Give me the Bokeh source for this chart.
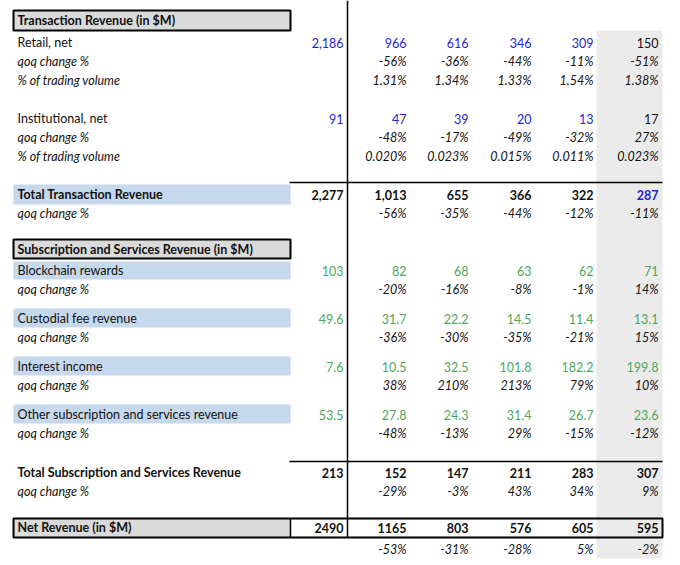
from bokeh.plotting import figure
from bokeh.models import ColumnDataSource, Range1d
from bokeh.core.properties import value
from bokeh.embed import file_html
from bokeh.resources import INLINE

# ---------------- data ----------------
retail_net = [2186, 966, 616, 346, 309, 150]
retail_qoq = [None, -56, -36, -44, -11, -51]
retail_vol = [None, 1.31, 1.34, 1.33, 1.54, 1.38]
inst_net = [91, 47, 39, 20, 13, 17]
inst_qoq = [None, -48, -17, -49, -32, 27]
inst_vol = [None, 0.020, 0.023, 0.015, 0.011, 0.023]
total_tx = [2277, 1013, 655, 366, 322, 287]
total_tx_qoq = [None, -56, -35, -44, -12, -11]
blockchain = [103, 82, 68, 63, 62, 71]
blockchain_qoq = [None, -20, -16, -8, -1, 14]
custodial = [49.6, 31.7, 22.2, 14.5, 11.4, 13.1]
custodial_qoq = [None, -36, -30, -35, -21, 15]
interest = [7.6, 10.5, 32.5, 101.8, 182.2, 199.8]
interest_qoq = [None, 38, 210, 213, 79, 10]
other_subs = [53.5, 27.8, 24.3, 31.4, 26.7, 23.6]
other_subs_qoq = [None, -48, -13, 29, -15, -12]
total_subs = [213, 152, 147, 211, 283, 307]
total_subs_qoq = [None, -29, -3, 43, 34, 9]
net_revenue = [2490, 1165, 803, 576, 605, 595]
net_revenue_qoq = [None, -53, -31, -28, 5, -2]

# ---------------- styles ----------------
BLUE = "#2424d8"
GREEN = "#4ca85a"
BLACK = "#111111"
BAND = "#c6d8ec"
GRAYCOL = "#ebebeb"
HDRFILL = "#dadada"
FONT = "Lato"
FS = "12.5px"

col_right = [343, 406, 468, 531, 593, 658]
label_x = 17

def cols(c_first5, c_last):
    return [c_first5] * 5 + [c_last]

rows = [
    ("Transaction Revenue (in $M)", 20, None, None, "bold", None, None),
    ("Retail, net", 42, retail_net, "{:,.0f}", "normal", "normal", cols(BLUE, BLACK)),
    ("qoq change %", 61, retail_qoq, "{:.0f}%", "italic", "italic", cols(BLACK, BLACK)),
    ("% of trading volume", 80, retail_vol, "{:.2f}%", "italic", "italic", cols(BLACK, BLACK)),
    ("Institutional, net", 118, inst_net, "{:,.0f}", "normal", "normal", cols(BLUE, BLACK)),
    ("qoq change %", 137, inst_qoq, "{:.0f}%", "italic", "italic", cols(BLACK, BLACK)),
    ("% of trading volume", 156, inst_vol, "{:.3f}%", "italic", "italic", cols(BLACK, BLACK)),
    ("Total Transaction Revenue", 194, total_tx, "{:,.0f}", "bold", "bold", cols(BLACK, BLUE)),
    ("qoq change %", 213, total_tx_qoq, "{:.0f}%", "italic", "italic", cols(BLACK, BLACK)),
    ("Subscription and Services Revenue (in $M)", 249, None, None, "bold", None, None),
    ("Blockchain rewards", 270, blockchain, "{:.0f}", "normal", "normal", cols(GREEN, GREEN)),
    ("qoq change %", 289, blockchain_qoq, "{:.0f}%", "italic", "italic", cols(BLACK, BLACK)),
    ("Custodial fee revenue", 318, custodial, "{:.1f}", "normal", "normal", cols(GREEN, GREEN)),
    ("qoq change %", 337, custodial_qoq, "{:.0f}%", "italic", "italic", cols(BLACK, BLACK)),
    ("Interest income", 366, interest, "{:.1f}", "normal", "normal", cols(GREEN, GREEN)),
    ("qoq change %", 385, interest_qoq, "{:.0f}%", "italic", "italic", cols(BLACK, BLACK)),
    ("Other subscription and services revenue", 414, other_subs, "{:.1f}", "normal", "normal", cols(GREEN, GREEN)),
    ("qoq change %", 433, other_subs_qoq, "{:.0f}%", "italic", "italic", cols(BLACK, BLACK)),
    ("Total Subscription and Services Revenue", 472, total_subs, "{:.0f}", "bold", "bold", cols(BLACK, BLACK)),
    ("qoq change %", 491, total_subs_qoq, "{:.0f}%", "italic", "italic", cols(BLACK, BLACK)),
    ("Net Revenue (in $M)", 527, net_revenue, "{:.0f}", "bold", "bold", cols(BLACK, BLACK)),
    ("", 549, net_revenue_qoq, "{:.0f}%", "italic", "italic", cols(BLACK, BLACK)),
]

W, H = 672, 560
p = figure(width=W, height=H, output_backend="svg", toolbar_location=None,
           x_range=Range1d(0, W), y_range=Range1d(H, 0),
           min_border=0, outline_line_color=None)
p.axis.visible = False
p.grid.visible = False
p.background_fill_color = "white"

# gray last column
p.quad(left=[596], right=[662], top=[30], bottom=[558], fill_color=GRAYCOL, line_color=None)

# blue bands
band_rows = [(184, 204), (261, 279), (308, 327), (356, 375), (404, 423)]
p.quad(left=[13] * len(band_rows), right=[290] * len(band_rows),
       top=[b[0] for b in band_rows], bottom=[b[1] for b in band_rows],
       fill_color=BAND, line_color=None)

# header boxes
p.quad(left=[13, 13, 13], right=[290, 290, 290], top=[10, 239, 518], bottom=[30, 258, 537],
       fill_color=HDRFILL, line_color=None)
p.quad(left=[13, 13], right=[290, 290], top=[10, 239], bottom=[30, 258],
       fill_color=None, line_color="black", line_width=2)
p.quad(left=[13], right=[662], top=[518], bottom=[537], fill_color=None,
       line_color="black", line_width=2)
p.segment(x0=[290], y0=[518], x1=[290], y1=[537], line_color="black", line_width=1.5)

# vertical separator
p.segment(x0=[347], y0=[0], x1=[347], y1=[537], line_color="black", line_width=1.5)
# total lines
p.segment(x0=[289, 289], y0=[182, 461], x1=[662, 662], y1=[182, 461],
          line_color="black", line_width=1.5)

# texts
xs, ys, txt, clr, aln, sty = [], [], [], [], [], []
for label, y, vals, fmt, lstyle, vstyle, colors in rows:
    if label:
        xs.append(label_x); ys.append(y); txt.append(label)
        clr.append(BLACK); aln.append("left"); sty.append(lstyle)
    if vals is not None:
        for i, v in enumerate(vals):
            if v is None:
                continue
            xs.append(col_right[i]); ys.append(y); txt.append(fmt.format(v))
            clr.append(colors[i]); aln.append("right"); sty.append(vstyle)

src = ColumnDataSource(dict(x=xs, y=ys, text=txt, color=clr, align=aln, style=sty))
p.text(x="x", y="y", text="text", source=src, text_color="color", text_align="align",
       text_font_style="style", text_baseline="middle", text_font=value(FONT),
       text_font_size=FS)

open("out.html", "w").write(file_html(p, INLINE))
